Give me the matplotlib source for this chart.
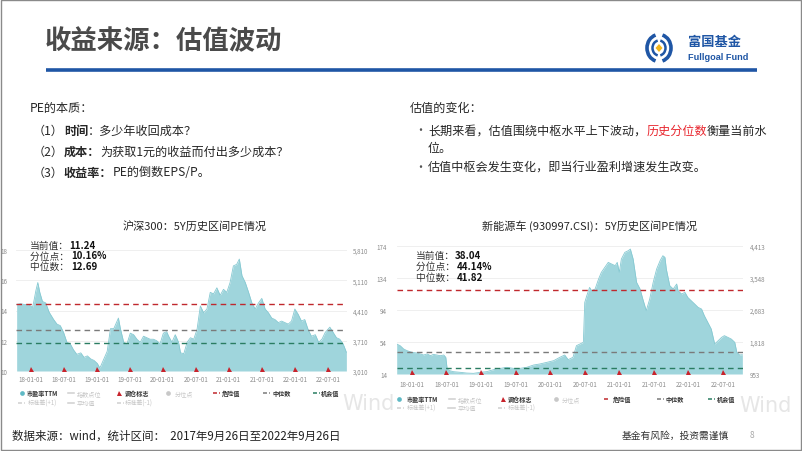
import matplotlib
matplotlib.use("Agg")
import matplotlib.pyplot as plt
from matplotlib.patches import Arc, Polygon, Rectangle
from matplotlib.ticker import FuncFormatter

plt.rcParams['font.family'] = ['Noto Sans CJK SC', 'DejaVu Sans']

## data (decimal years, PE TTM)
hs300_t = [2017.79, 2017.85, 2017.90, 2017.95, 2018.00, 2018.03, 2018.05, 2018.08, 2018.11, 2018.14,
           2018.18, 2018.23, 2018.28, 2018.35, 2018.40, 2018.45, 2018.50, 2018.55, 2018.60, 2018.65,
           2018.70, 2018.76, 2018.81, 2018.86, 2018.91, 2018.96, 2019.01, 2019.05, 2019.11, 2019.16,
           2019.21, 2019.26, 2019.31, 2019.33, 2019.36, 2019.41, 2019.46, 2019.51, 2019.56, 2019.61,
           2019.66, 2019.71, 2019.76, 2019.81, 2019.86, 2019.91, 2019.96, 2020.01, 2020.06, 2020.09,
           2020.14, 2020.19, 2020.24, 2020.27, 2020.32, 2020.37, 2020.42, 2020.47, 2020.52, 2020.57,
           2020.62, 2020.67, 2020.72, 2020.77, 2020.82, 2020.87, 2020.92, 2020.97, 2021.02, 2021.07,
           2021.12, 2021.16, 2021.20, 2021.25, 2021.30, 2021.35, 2021.40, 2021.45, 2021.50, 2021.55,
           2021.60, 2021.65, 2021.70, 2021.75, 2021.80, 2021.85, 2021.90, 2021.95, 2022.00, 2022.05,
           2022.10, 2022.15, 2022.20, 2022.25, 2022.31, 2022.36, 2022.41, 2022.46, 2022.53, 2022.58,
           2022.63, 2022.68, 2022.73, 2022.78]
hs300_pe = [14.4, 14.45, 14.4, 14.4, 14.3, 14.2, 14.6, 15.3, 15.85, 15.2,
            14.6, 14.5, 13.9, 13.4, 13.1, 13.0, 12.55, 11.9, 11.8, 11.4,
            11.1, 11.2, 10.9, 11.0, 10.8, 10.7, 10.5, 10.2, 10.8, 11.3,
            12.8, 12.8, 13.3, 13.5, 12.8, 11.9, 11.8, 12.5, 12.4, 12.1,
            11.9, 12.3, 12.2, 12.1, 12.1, 12.0, 11.8, 12.5, 12.6, 12.3,
            11.9, 12.4, 11.9, 11.2, 11.15, 11.9, 12.2, 12.1, 12.75, 14.3,
            13.85, 14.1, 15.2, 15.1, 15.5, 15.0, 15.4, 15.2, 15.85, 16.95,
            17.05, 17.4, 16.3, 15.85, 15.2, 14.5, 14.1, 14.5, 14.8, 14.1,
            13.85, 13.5, 13.4, 13.2, 13.3, 13.2, 13.1, 13.3, 14.1, 13.75,
            13.3, 13.4, 12.75, 12.3, 12.4, 11.9, 12.1, 12.55, 12.9, 12.55,
            12.2, 12.1, 11.8, 11.24]
hs300_levels = [14.41, 12.69, 11.83]   # 危险值, 中位数, 机会值

nev_t = [2017.78, 2017.83, 2017.88, 2017.93, 2018.00, 2018.07, 2018.12, 2018.17, 2018.22, 2018.27,
         2018.31, 2018.36, 2018.41, 2018.46, 2018.49, 2018.51, 2018.55, 2018.60, 2018.70, 2018.79,
         2018.89, 2018.99, 2019.08, 2019.18, 2019.28, 2019.37, 2019.47, 2019.56, 2019.66, 2019.76,
         2019.85, 2019.95, 2020.05, 2020.14, 2020.21, 2020.26, 2020.33, 2020.38, 2020.43, 2020.48,
         2020.50, 2020.53, 2020.57, 2020.60, 2020.65, 2020.70, 2020.74, 2020.79, 2020.84, 2020.89,
         2020.94, 2020.97, 2021.00, 2021.03, 2021.08, 2021.13, 2021.16, 2021.20, 2021.25, 2021.30,
         2021.34, 2021.39, 2021.44, 2021.49, 2021.54, 2021.59, 2021.63, 2021.66, 2021.68, 2021.73,
         2021.78, 2021.83, 2021.85, 2021.90, 2021.95, 2021.99, 2022.04, 2022.09, 2022.14, 2022.19,
         2022.23, 2022.28, 2022.33, 2022.38, 2022.43, 2022.48, 2022.52, 2022.57, 2022.62, 2022.67,
         2022.70, 2022.74, 2022.78]
nev_pe = [51.4, 49.3, 45.2, 43.1, 41.0, 40.2, 39.0, 37.7, 39.0, 36.8,
          38.5, 37.7, 36.8, 37.7, 34.8, 20.2, 18.1, 16.9, 16.1, 15.2,
          14.8, 16.1, 16.9, 19.4, 21.0, 22.3, 21.0, 21.0, 22.3, 25.2,
          26.5, 28.5, 30.6, 34.8, 37.7, 31.9, 34.8, 49.3, 51.4, 53.5,
          103.3, 111.7, 122.0, 117.9, 120.0, 132.4, 140.7, 147.0, 153.2, 151.1,
          149.1, 153.2, 140.7, 157.4, 165.7, 167.8, 169.8, 157.4, 128.3, 120.0,
          107.5, 93.0, 107.5, 128.3, 144.9, 155.3, 161.5, 159.5, 144.9, 124.1,
          120.0, 126.2, 117.9, 113.7, 115.8, 109.6, 105.4, 101.3, 97.1, 95.0,
          86.7, 78.4, 70.1, 51.4, 55.5, 59.7, 61.8, 59.7, 57.6, 53.5,
          41.0, 37.7, 38.04]
nev_levels = [119.1, 41.82, 21.0]

rebalance_t = [2018.0, 2018.5, 2019.0, 2019.5, 2020.0, 2020.5, 2021.0, 2021.5, 2022.0, 2022.5]
tick_labels = ['18-01-01', '18-07-01', '19-01-01', '19-07-01', '20-01-01',
               '20-07-01', '21-01-01', '21-07-01', '22-01-01', '22-07-01']

hs300_yticks = [10, 12, 14, 16, 18]
hs300_rticks = [3010, 3710, 4410, 5110, 5810]
nev_yticks = [14, 54, 94, 134, 174]
nev_rticks = [953, 1818, 2683, 3548, 4413]

hs300_stats = ['11.24', '10.16%', '12.69']
nev_stats = ['38.04', '44.14%', '41.82']

## styling
W, H = 802, 452
FILL = '#9fd5dc'
EDGE = '#86c9d2'
RED = '#c8232c'
BLUE = '#1f56a5'
level_colors = ['#c0282d', '#7a7a7a', '#2a7d62']
XLIM = (2017.78, 2022.785)

fig = plt.figure(figsize=(W / 100, H / 100), dpi=100)


def px_axes(x0, y0, x1, y1):
    return fig.add_axes([x0 / W, 1 - y1 / H, (x1 - x0) / W, (y1 - y0) / H])


def pe_chart(ax, t, pe, levels, yticks, rticks, lpad, rpad, xpad):
    lo, hi = yticks[0], yticks[-1]
    ax.fill_between(t, lo, pe, color=FILL, lw=0, zorder=2)
    ax.plot(t, pe, color=EDGE, lw=0.6, zorder=2)
    for v, c in zip(levels, level_colors):
        ax.axhline(v, color=c, ls=(0, (4, 3)), lw=1.0, zorder=3)
    ax.plot(rebalance_t, [lo + 0.018 * (hi - lo)] * len(rebalance_t), '^',
            color=RED, ms=3.6, mew=0, zorder=4, clip_on=False)
    ax.set_xlim(*XLIM)
    ax.set_ylim(lo, hi)
    ax.set_yticks(yticks)
    ax.set_xticks(rebalance_t)
    ax.set_xticklabels(tick_labels)
    ax.tick_params(length=0, labelsize=4.5, colors='#8c8c8c')
    ax.tick_params(axis='y', pad=lpad)
    ax.tick_params(axis='x', pad=xpad)
    ax.yaxis.grid(True, color='#ececec', lw=0.6)
    ax.set_axisbelow(True)
    ax.patch.set_alpha(0)
    for s in ax.spines.values():
        s.set_visible(False)
    axr = ax.twinx()
    axr.set_ylim(rticks[0], rticks[-1])
    axr.set_yticks(rticks)
    axr.yaxis.set_major_formatter(FuncFormatter(lambda v, p: f'{v:,.0f}'))
    axr.tick_params(length=0, labelsize=4.5, colors='#8c8c8c', pad=rpad)
    for s in axr.spines.values():
        s.set_visible(False)


ax1 = px_axes(16, 251, 346.7, 372)
pe_chart(ax1, hs300_t, hs300_pe, hs300_levels, hs300_yticks, hs300_rticks, 6, 4.5, 3)
ax2 = px_axes(396.7, 246.7, 742.7, 375)
pe_chart(ax2, nev_t, nev_pe, nev_levels, nev_yticks, nev_rticks, 7, 5, 4.5)

## overlay in pixel coordinates for all slide text
fg = fig.add_axes([0, 0, 1, 1])
fg.set_xlim(0, W)
fg.set_ylim(H, 0)
fg.axis('off')
fg.patch.set_alpha(0)


def rich(x, y, parts, size):
    s, c, w = parts[0]
    prev = fg.text(x, y, s, fontsize=size, color=c, weight=w, va='center', ha='left')
    for s, c, w in parts[1:]:
        prev = fg.annotate(s, xy=(1, 0), xycoords=prev, va='bottom', ha='left',
                           fontsize=size, color=c, weight=w)
    return prev


TXT = '#262626'

# header
fg.text(45, 42, '收益来源：估值波动', fontsize=19, weight='bold', color='#4a4a4a', va='center')
fg.plot([46, 757], [70.5, 70.5], color=BLUE, lw=2.6, solid_capstyle='butt')
# logo mark
fg.add_patch(Arc((659, 49), 24, 27, theta1=105, theta2=255, color=BLUE, lw=2.6))
fg.add_patch(Arc((659, 49), 24, 27, theta1=-75, theta2=75, color=BLUE, lw=2.6))
fg.add_patch(Arc((659, 49), 13, 15, theta1=100, theta2=260, color=BLUE, lw=1.8))
fg.add_patch(Arc((659, 49), 13, 15, theta1=-80, theta2=80, color=BLUE, lw=1.8))
fg.add_patch(Polygon([(659, 45), (662.5, 49), (659, 53), (655.5, 49)], closed=True, color='#f2b51c', lw=0))
fg.text(688, 42, '富国基金', fontsize=9.5, weight='bold', color=BLUE, va='center')
fg.text(688, 57, 'Fullgoal Fund', fontsize=6.6, weight='bold', color=BLUE, va='center',
        family=['Liberation Sans', 'DejaVu Sans'])

# left text block
BODY = 8.7
fg.text(30, 108, 'PE的本质：', fontsize=BODY, color=TXT, va='center')
rich(33, 131, [('（1）', TXT, 'normal'), ('时间', TXT, 'bold'), ('：多少年收回成本？', TXT, 'normal')], BODY)
rich(33, 152, [('（2）', TXT, 'normal'), ('成本：', TXT, 'bold'), ('为获取1元的收益而付出多少成本？', TXT, 'normal')], BODY)
rich(33, 173, [('（3）', TXT, 'normal'), ('收益率：', TXT, 'bold'), ('PE的倒数EPS/P。', TXT, 'normal')], BODY)

# right text block
fg.text(410, 108, '估值的变化：', fontsize=BODY, color=TXT, va='center')
fg.text(414, 131, '•', fontsize=BODY, color='#555555', va='center')
rich(428, 131, [('长期来看，估值围绕中枢水平上下波动，', TXT, 'normal'), ('历史分位数', '#e8262e', 'normal'),
                ('衡量当前水', TXT, 'normal')], BODY)
fg.text(428, 149, '位。', fontsize=BODY, color=TXT, va='center')
fg.text(414, 168, '•', fontsize=BODY, color='#555555', va='center')
fg.text(428, 168, '估值中枢会发生变化，即当行业盈利增速发生改变。', fontsize=BODY, color=TXT, va='center')

# chart titles
fg.text(195, 226, '沪深300：5Y历史区间PE情况', fontsize=8, color=TXT, va='center', ha='center')
fg.text(589, 226, '新能源车 (930997.CSI)：5Y历史区间PE情况', fontsize=8, color=TXT, va='center', ha='center')

# stats boxes
stat_names = ['当前值：', '分位点： ', '中位数： ']
for i, (name, val) in enumerate(zip(stat_names, hs300_stats)):
    rich(30, 245.7 + 10.8 * i, [(name, '#333333', 'normal'), (val, '#111111', 'bold')], 7)
for i, (name, val) in enumerate(zip(stat_names, nev_stats)):
    rich(415.5, 256 + 11.1 * i, [(name, '#333333', 'normal'), (val, '#111111', 'bold')], 7)

# legends
FADE = '#cfcfcf'
legend_items = [('o', '#5fb9c5', '市盈率TTM', True), ('-', FADE, '指数点位', False),
                ('^', RED, '调仓标志', True), ('o', '#c8c8c8', '分位点', False),
                ('--', level_colors[0], '危险值', True), ('--', level_colors[1], '中位数', True),
                ('--', level_colors[2], '机会值', True),
                ('--', FADE, '标准差(+1)', False), ('-', FADE, '平均值', False),
                ('--', FADE, '标准差(-1)', False)]


def legend(xs, rows):
    for (kind, col, lab, on), (hx, tx, r) in zip(legend_items, xs):
        y = rows[r]
        if kind in ('o', '^'):
            fg.plot([hx], [y], kind, color=col, ms=3.4 if kind == 'o' else 3.6, mew=0)
        else:
            fg.plot([hx - 3, hx + 3.5], [y, y], color=col, lw=1.1,
                    ls=(0, (2.6, 1.4)) if kind == '--' else '-')
        fg.text(tx, y, lab, fontsize=4.4, color='#333333' if on else '#c6c6c6',
                weight='bold' if on else 'normal', va='center')


legend([(21.7, 27, 0), (70.5, 77, 0), (119, 125, 0), (168, 175, 0), (216, 222, 0),
        (266, 272, 0), (316, 321, 0), (21, 28, 1), (70.5, 77, 1), (120, 125, 1)], [394, 404])
legend([(399.3, 406.5, 0), (451.5, 458, 0), (503, 508, 0), (556, 562, 0), (606.5, 613, 0),
        (660, 665, 0), (711, 717, 0), (400, 407, 1), (451, 458, 1), (501, 508, 1)], [400, 408.5])

# watermarks
fg.text(342, 404, 'Wind', fontsize=15, color='#e6e6e6', va='center', ha='left',
        family=['DejaVu Sans'])
fg.text(739, 406, 'Wind', fontsize=15, color='#e6e6e6', va='center', ha='left',
        family=['DejaVu Sans'])

# footer
fg.text(12, 436, '数据来源：wind，统计区间：  2017年9月26日至2022年9月26日', fontsize=8.3, color='#222222',
        va='center')
fg.text(622, 436, '基金有风险，投资需谨慎', fontsize=7, color='#333333', va='center')
fg.text(750, 436, '8', fontsize=6, color='#aaaaaa', va='center')

# slide frame
fg.add_patch(Rectangle((0.5, 0.5), W - 1.5, H - 1.5, fill=False, ec='#8a8a8a', lw=1.0))

fig.savefig('out.png', dpi=100)
